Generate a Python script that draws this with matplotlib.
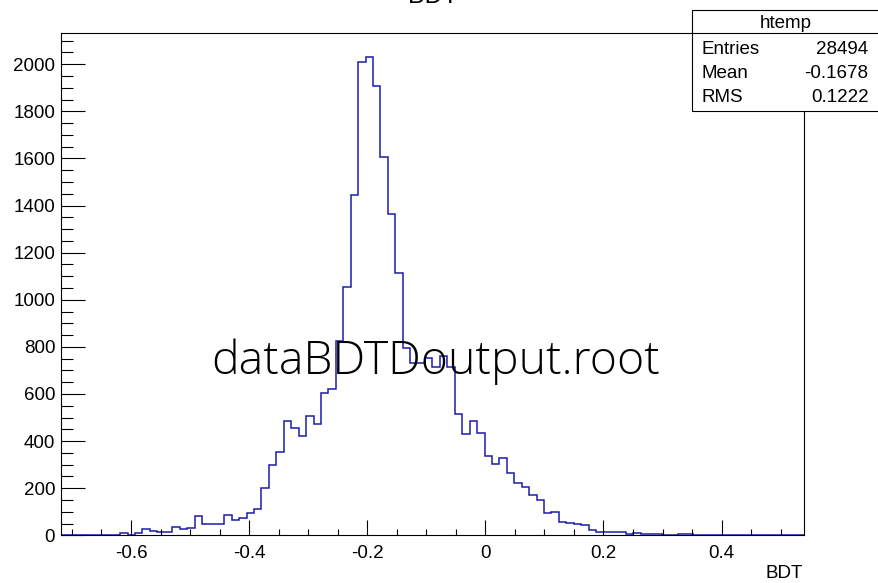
import numpy as np
import matplotlib
matplotlib.use("Agg")
import matplotlib.pyplot as plt
from matplotlib.patches import Rectangle
from matplotlib.ticker import MultipleLocator, FuncFormatter

# histogram "htemp" of BDT output, 100 bins
bin_lo = -0.719
bin_hi = 0.540
n_bins = 100
counts = ([0] * 8 +
          [8, 3, 8, 25, 20, 14, 14, 37, 27, 33, 82, 48, 48, 48, 88, 65, 72, 93, 112] +
          [200, 297, 352, 485, 457, 422, 507, 473, 603, 621, 825, 1056, 1444, 2010, 2032,
           1908, 1608, 1364, 1115] +
          [794, 730, 733, 751, 716, 760, 716, 513] +
          [429, 485, 433, 337, 303, 327, 263, 223, 206, 170, 150, 93, 100, 58, 51, 47, 42] +
          [21, 16, 13, 13, 13, 4, 9, 4, 4, 4, 0, 3, 7, 7, 3] +
          [0] * 14)

stats_labels = ["Entries", "Mean", "RMS"]
stats_values = ["28494", "-0.1678", "0.1222"]

W, H = 879, 583
root_font = "Liberation Sans"
plt.rcParams["font.family"] = root_font
plt.rcParams["axes.unicode_minus"] = False

fig = plt.figure(figsize=(W / 100, H / 100), dpi=100)
# frame in pixel coords: left 60.7, right 804.3, top 32.7, bottom 535.3
ax = fig.add_axes([60.7 / W, (H - 535.3) / H, (804.3 - 60.7) / W, (535.3 - 32.7) / H])

edges = np.linspace(bin_lo, bin_hi, n_bins + 1)
ax.stairs(counts, edges, color="#1c1caa", linewidth=1.1)

ax.set_xlim(bin_lo, bin_hi)
ax.set_ylim(0, max(counts) * 1.05)

for s in ax.spines.values():
    s.set_linewidth(0.8)
    s.set_color("black")

ax.xaxis.set_major_locator(MultipleLocator(0.2))
ax.xaxis.set_minor_locator(MultipleLocator(0.05))
ax.yaxis.set_major_locator(MultipleLocator(200))
ax.yaxis.set_minor_locator(MultipleLocator(50))
ax.xaxis.set_major_formatter(FuncFormatter(lambda v, p: f"{round(v, 2):g}"))
ax.yaxis.set_major_formatter(FuncFormatter(lambda v, p: f"{int(round(v))}"))

ax.tick_params(axis="x", which="major", direction="in", length=10.6, width=0.8,
               labelsize=13.5, pad=7)
ax.tick_params(axis="x", which="minor", direction="in", length=4.5, width=0.8)
ax.tick_params(axis="y", which="major", direction="in", length=17, width=0.8,
               labelsize=13.5, pad=4)
ax.tick_params(axis="y", which="minor", direction="in", length=8.4, width=0.8)

# axis title at the right end
fig.text(803 / W, (H - 578.3) / H, "BDT", ha="right", va="baseline", fontsize=13.5)

# histogram title, mostly cut off at the top (as in the original canvas)
fig.text(432.5 / W, (H - 3) / H, "BDT", ha="center", va="baseline", fontsize=18)

# stats box
bx0, bx1, by0, by1, bdiv = 692.3, 878.5, 10, 111, 33.3
fig.add_artist(Rectangle((bx0 / W, (H - by1) / H), (bx1 - bx0) / W, (by1 - by0) / H,
                         transform=fig.transFigure, facecolor="white",
                         edgecolor="black", linewidth=0.8, zorder=10))
fig.add_artist(plt.Line2D([bx0 / W, bx1 / W], [(H - bdiv) / H] * 2,
                          transform=fig.transFigure, color="black",
                          linewidth=0.8, zorder=11))
fig.text((bx0 + bx1) / 2 / W, (H - 23) / H, "htemp", ha="center", va="center",
         fontsize=13.5, zorder=12)
row_y = [49, 74, 98]
for lab, val, yy in zip(stats_labels, stats_values, row_y):
    fig.text(701.5 / W, (H - yy) / H, lab, ha="left", va="center", fontsize=13.5, zorder=12)
    fig.text(868.5 / W, (H - yy) / H, val, ha="right", va="center", fontsize=13.5, zorder=12)

# overlaid file name
fig.text(435.5 / W, (H - 362) / H, "dataBDTDoutput.root", ha="center", va="center",
         fontsize=33.4, family="Open Sans", fontweight="light", zorder=12)

fig.savefig("out.png", dpi=100)
